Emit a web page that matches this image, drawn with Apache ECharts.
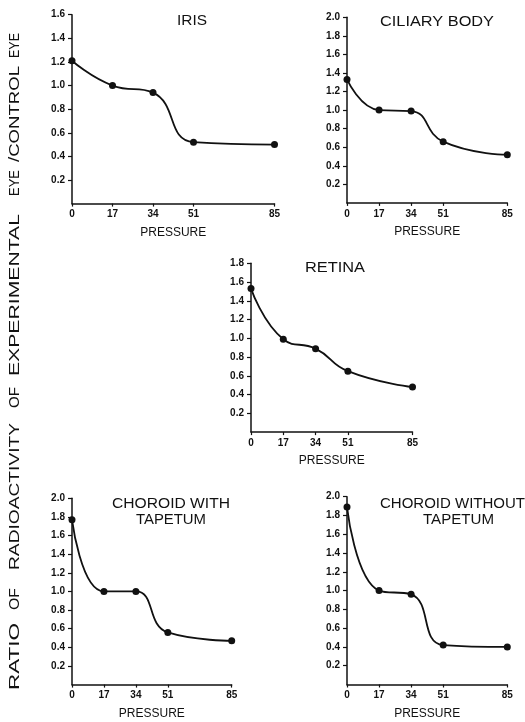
<!DOCTYPE html>
<html>
<head>
<meta charset="utf-8">
<script src="https://cdn.jsdelivr.net/npm/echarts@6/dist/echarts.min.js"></script>
<style>
html,body{margin:0;padding:0;background:#fff;}
#chart{width:525px;height:722px;}
</style>
</head>
<body>
<div id="chart"></div>
<script>
// ---- data ----
const pressure = [0, 17, 34, 51, 85];
const xTickLabels = ['0', '17', '34', '51', '85'];
const iris = [1.21, 1.00, 0.94, 0.52, 0.50];
const ciliaryBody = [1.33, 1.00, 0.99, 0.66, 0.52];
const retina = [1.53, 0.99, 0.89, 0.65, 0.48];
const choroidWithTapetum = [1.77, 1.00, 1.00, 0.56, 0.47];
const choroidWithoutTapetum = [1.89, 1.00, 0.96, 0.42, 0.40];
const panelTitles = [['IRIS'], ['CILIARY BODY'], ['RETINA'], ['CHOROID WITH', 'TAPETUM'], ['CHOROID WITHOUT', 'TAPETUM']];
const yMaxes = [1.6, 2.0, 1.8, 2.0, 2.0];
const xAxisTitle = 'PRESSURE';
const yAxisTitleWords = ['RATIO', 'OF', 'RADIOACTIVITY', 'OF', 'EXPERIMENTAL', 'EYE', '/CONTROL', 'EYE'];

// ---- layout ----
const panelData = [iris, ciliaryBody, retina, choroidWithTapetum, choroidWithoutTapetum];
const gridBoxes = [
  {left: 72, top: 14.7, width: 202.5, height: 188.9},
  {left: 347, top: 17.3, width: 160.3, height: 185.6},
  {left: 251, top: 263.3, width: 161.5, height: 168.8},
  {left: 72, top: 498.3, width: 159.7, height: 186.3},
  {left: 347, top: 496.7, width: 160.3, height: 187.8}
];
// [xStart, xEnd, yCenter] for each title line
const titleSpans = [
  [[177, 207, 21]],
  [[380, 494, 22]],
  [[305, 365, 268]],
  [[112, 230, 504], [136, 206, 520]],
  [[380, 525, 504], [423, 494, 520]]
];
// [yEnd(bottom), yStart(top)] for each word of the vertical title (bottom-to-top)
const yWordSpans = [[690, 623], [610, 588], [570, 423], [408, 387], [376, 214], [196, 170], [162, 66], [58, 33]];
const yTitleX = 15;

const ink = '#111';
const fontFam = '"Liberation Sans", Arial, sans-serif';
const titleFont = '500 14px ' + fontFam;
const yTitleFont = '15px ' + fontFam;

const measureCtx = document.createElement('canvas').getContext('2d');
function textWidth(t, font) { measureCtx.font = font; return measureCtx.measureText(t).width; }

const grids = [], xAxes = [], yAxes = [], series = [], graphics = [];
panelData.forEach((vals, i) => {
  grids.push(Object.assign({outerBoundsMode: 'none', containLabel: false}, gridBoxes[i]));
  const ys = [];
  for (let k = 1; k <= Math.round(yMaxes[i] / 0.2); k++) ys.push(+(k * 0.2).toFixed(1));
  xAxes.push({
    type: 'value', gridIndex: i, min: 0, max: 85,
    name: xAxisTitle, nameLocation: 'middle', nameGap: 23,
    nameTextStyle: {color: ink, fontSize: 12, fontFamily: fontFam, fontWeight: 500},
    axisLine: {show: true, onZero: false, lineStyle: {color: ink, width: 1.5}},
    axisTick: {show: true, length: 3, customValues: pressure, lineStyle: {color: ink, width: 1.2}},
    axisLabel: {
      customValues: pressure, margin: 6, color: ink, fontSize: 10, fontWeight: 'bold', fontFamily: fontFam,
      formatter: v => xTickLabels[pressure.indexOf(v)] ?? ''
    },
    splitLine: {show: false}
  });
  yAxes.push({
    type: 'value', gridIndex: i, min: 0, max: yMaxes[i], interval: 0.2,
    axisLine: {show: true, lineStyle: {color: ink, width: 1.5}},
    axisTick: {show: true, length: 4, customValues: ys, lineStyle: {color: ink, width: 1.2}},
    axisLabel: {
      customValues: ys, margin: 7, color: ink, fontSize: 10, fontWeight: 'bold', fontFamily: fontFam,
      formatter: v => v.toFixed(1)
    },
    splitLine: {show: false}
  });
  series.push({
    type: 'line', xAxisIndex: i, yAxisIndex: i,
    data: pressure.map((p, k) => [p, vals[k]]),
    smooth: 0.5,
    symbol: 'circle', symbolSize: 7,
    itemStyle: {color: ink},
    lineStyle: {color: ink, width: 1.8},
    animation: false
  });
  panelTitles[i].forEach((t, j) => {
    const [x0, x1, yc] = titleSpans[i][j];
    const sx = (x1 - x0) / textWidth(t, titleFont);
    graphics.push({
      type: 'text', x: (x0 + x1) / 2, y: yc, scaleX: sx,
      style: {text: t, fill: ink, font: titleFont, textAlign: 'center', textVerticalAlign: 'middle'}
    });
  });
});
yAxisTitleWords.forEach((w, k) => {
  const [yb, yt] = yWordSpans[k];
  const sx = (yb - yt) / textWidth(w, yTitleFont);
  graphics.push({
    type: 'text', x: yTitleX, y: (yb + yt) / 2, rotation: Math.PI / 2, scaleX: sx,
    style: {text: w, fill: ink, font: yTitleFont, textAlign: 'center', textVerticalAlign: 'middle'}
  });
});

const chart = echarts.init(document.getElementById('chart'), null, {renderer: 'canvas'});
chart.setOption({
  backgroundColor: '#fff',
  animation: false,
  grid: grids,
  xAxis: xAxes,
  yAxis: yAxes,
  series: series,
  graphic: graphics
});
</script>
</body>
</html>
